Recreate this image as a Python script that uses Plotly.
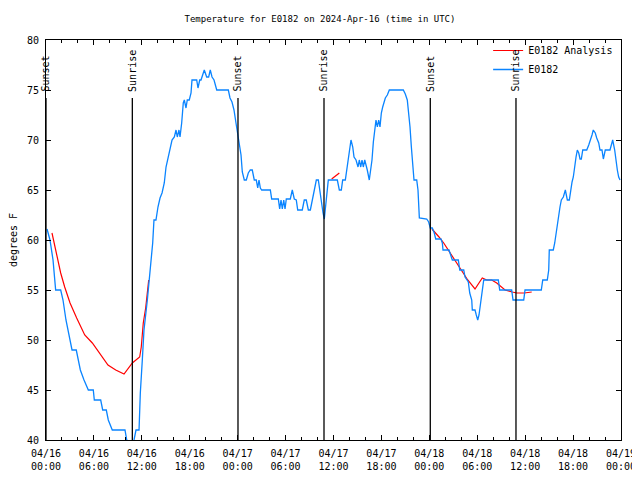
import pandas as pd
import plotly.graph_objects as go

BASE = pd.Timestamp("2024-04-16 00:00")

# Observed E0182 temperature: hours since 2024-04-16 00:00 UTC, degrees F
obs_hours = [0.13, 0.50, 0.88, 1.21, 1.84, 2.13, 2.50, 2.88, 3.26, 3.79, 4.04, 4.30, 4.76, 5.30, 5.92,
             6.05, 6.85, 7.10, 7.55, 7.80, 8.30, 9.89, 10.11, 10.52, 11.02, 11.27, 11.65, 11.81, 12.06,
             12.27, 12.69, 13.11, 13.36, 13.52, 13.77, 14.02, 14.28, 14.53, 14.81, 15.03, 15.28, 15.53,
             15.78, 16.07, 16.28, 16.44, 16.65, 16.78, 16.99, 17.19, 17.32, 17.53, 17.69, 17.94, 18.16,
             18.28, 18.87, 19.03, 19.25, 19.41, 19.62, 19.82, 20.12, 20.37, 20.57, 20.79, 21.04, 21.38,
             22.83, 23.04, 23.29, 23.54, 23.79, 23.96, 24.09, 24.26, 24.42, 24.58, 24.83, 25.08, 25.33,
             25.58, 25.83, 26.08, 26.33, 26.51, 26.67, 26.84, 27.01, 28.09, 28.26, 29.09, 29.26, 29.43,
             29.59, 29.77, 29.93, 30.09, 30.59, 30.84, 31.09, 31.34, 31.52, 32.09, 32.34, 32.59, 32.85,
             33.10, 33.35, 33.60, 33.85, 34.10, 34.27, 34.44, 34.69, 34.85, 35.02, 35.19, 35.35, 36.48,
             36.73, 36.98, 37.15, 37.48, 37.65, 37.82, 37.98, 38.19, 38.41, 38.57, 38.82, 39.07, 39.23,
             39.41, 39.57, 39.73, 39.91, 40.07, 40.23, 40.48, 40.66, 40.82, 40.99, 41.16, 41.32, 41.49,
             41.66, 41.82, 41.99, 42.16, 42.32, 42.49, 42.74, 42.99, 44.74, 44.99, 45.24, 45.42, 45.58,
             45.75, 45.92, 46.08, 46.42, 46.58, 46.75, 47.67, 47.92, 48.12, 48.37, 48.62, 48.80, 49.46,
             49.63, 49.71, 50.46, 50.88, 51.63, 51.81, 52.31, 52.47, 52.72, 52.88, 53.06, 53.31, 53.38,
             53.72, 53.88, 54.06, 54.22, 54.31, 54.47, 54.63, 54.81, 56.64, 56.81, 58.31, 58.48, 59.82,
             59.98, 62.02, 62.20, 62.77, 62.95, 63.02, 63.52, 63.70, 63.86, 64.03, 64.20, 64.36, 64.53,
             64.78, 65.03, 65.28, 65.53, 65.70, 65.87, 66.03, 66.21, 66.37, 66.53, 66.71, 66.87, 67.03,
             67.21, 67.71, 67.96, 68.21, 68.37, 68.53, 68.78, 68.96, 69.21, 69.37, 69.62, 69.79, 70.03,
             70.62, 70.79, 70.96, 71.21, 71.37, 71.54, 71.71, 71.88]
obs_temps = [61.1, 60.0, 58.0, 55.0, 55.0, 54.0, 52.0, 50.5, 49.0, 49.0, 48.0, 47.0, 46.0, 45.0, 45.0,
             44.0, 44.0, 43.0, 43.0, 42.0, 41.0, 41.0, 40.0, 38.5, 40.0, 41.0, 41.0, 44.7, 48.0,
             51.0, 54.0, 57.7, 59.7, 62.0, 62.0, 63.3, 64.2, 64.7, 65.7, 67.3, 68.3, 69.3,
             70.0, 70.3, 71.0, 70.3, 71.0, 70.3, 71.7, 73.7, 74.0, 73.2, 74.0, 74.0, 74.7,
             76.0, 76.0, 75.2, 76.0, 76.0, 76.5, 77.0, 76.3, 76.3, 77.0, 76.3, 76.0, 75.0,
             75.0, 74.2, 73.8, 73.0, 71.7, 70.8, 70.3, 69.3, 68.5, 66.8, 66.0, 66.0, 66.7,
             67.0, 67.0, 66.0, 66.0, 65.2, 66.0, 65.2, 65.0, 65.0, 64.1, 64.1, 63.1, 64.0,
             63.1, 64.0, 63.1, 64.1, 64.1, 65.0, 64.1, 64.0, 63.0, 63.0, 64.0, 64.0, 63.0,
             63.0, 64.0, 65.0, 66.0, 66.0, 65.0, 63.7, 62.7, 62.1, 63.7, 65.0, 66.0, 66.0,
             65.0, 65.0, 66.0, 66.0, 67.0, 68.0, 69.3, 70.0, 69.3, 68.3, 68.0, 67.3, 68.0,
             67.3, 68.0, 67.3, 68.0, 67.3, 67.0, 66.0, 67.0, 68.0, 69.8, 71.3, 72.0, 71.3,
             72.0, 71.3, 72.7, 73.3, 73.8, 74.2, 74.5, 75.0, 75.0, 74.6, 74.0, 72.7, 71.3,
             69.3, 67.3, 66.0, 66.0, 65.0, 62.2, 62.1, 61.8, 61.2, 61.2, 60.7, 60.1, 60.1,
             59.7, 59.0, 59.0, 58.0, 58.0, 57.0, 57.0, 56.3, 56.0, 55.8, 54.7, 54.0, 53.0,
             53.0, 52.5, 52.0, 52.5, 53.0, 54.0, 55.0, 56.0, 56.0, 55.0, 55.0, 54.0, 54.0,
             55.0, 55.0, 56.0, 56.0, 57.0, 59.0, 59.0, 59.7, 60.7, 61.7, 62.5, 63.3, 64.0,
             64.3, 65.0, 64.0, 64.0, 65.0, 65.8, 66.3, 67.7, 68.3, 69.0, 68.7, 68.1, 68.1,
             69.0, 69.0, 69.5, 70.0, 70.5, 71.0, 70.7, 70.2, 69.7, 69.0, 69.0, 68.1, 69.0,
             69.0, 69.6, 70.0, 69.0, 67.7, 67.0, 66.3, 66.0]

# Analysis series (three separate segments)
ana1_hours = [0.75, 1.00, 1.34, 1.84, 2.34, 3.01, 3.84, 4.85, 5.80, 6.85, 7.76, 8.73, 9.77, 10.81,
              11.23, 11.73, 11.93, 12.18, 12.48, 12.69, 12.86]
ana1_temps = [60.7, 59.7, 58.7, 56.7, 55.3, 53.7, 52.2, 50.5, 49.7, 48.5, 47.5, 47.0, 46.6, 47.7,
              48.0, 48.3, 49.3, 51.7, 53.2, 54.8, 56.0]
ana2_hours = [35.77, 36.25, 36.73]
ana2_temps = [66.1, 66.4, 66.7]
ana3_hours = [48.33, 48.71, 49.21, 49.80, 50.38, 51.00, 51.63, 52.13, 52.81, 53.72, 54.63, 55.19,
              55.81, 56.44, 56.98, 57.48, 58.39, 58.94, 59.89, 60.82]
ana3_temps = [61.1, 60.8, 60.3, 59.7, 59.0, 58.2, 57.5, 56.8, 56.0, 55.1, 56.2, 56.0,
              56.0, 55.7, 55.3, 55.0, 54.8, 54.7, 54.7, 54.8]

# Sun events
sun_hours = [0.0, 10.81, 24.04, 34.81, 48.12, 58.85]
sun_labels = ["Sunset", "Sunrise", "Sunset", "Sunrise", "Sunset", "Sunrise"]

y_ticks = [40, 45, 50, 55, 60, 65, 70, 75, 80]


def to_time(hours):
    return [BASE + pd.to_timedelta(h, unit="h") for h in hours]


ana_x = to_time(ana1_hours) + [None] + to_time(ana2_hours) + [None] + to_time(ana3_hours)
ana_y = ana1_temps + [None] + ana2_temps + [None] + ana3_temps

FONT = "DejaVu Sans Mono"
fig = go.Figure()
fig.add_trace(go.Scatter(x=ana_x, y=ana_y, mode="lines", name="E0182 Analysis",
                         line=dict(color="#ff0000", width=1.2), connectgaps=False))
fig.add_trace(go.Scatter(x=to_time(obs_hours), y=obs_temps, mode="lines", name="E0182",
                         line=dict(color="#0a84ff", width=1.3)))

for h, lab in zip(sun_hours, sun_labels):
    t = BASE + pd.to_timedelta(h, unit="h")
    fig.add_shape(type="line", xref="x", yref="paper", x0=t, x1=t, y0=0, y1=0.855,
                  line=dict(color="black", width=1.3))
    fig.add_annotation(x=t, xref="x", yref="paper", y=0.866, text=lab, textangle=-90,
                       showarrow=False, xanchor="center", yanchor="bottom",
                       font=dict(family=FONT, size=10, color="black"))

# page body adds an 8px offset, so margins are shifted to land the plot area at 46..621 x 40..440
fig.update_layout(
    width=640, height=480,
    margin=dict(l=38, r=27, t=32, b=48, autoexpand=False),
    paper_bgcolor="white", plot_bgcolor="white",
    font=dict(family=FONT, size=10, color="black"),
    title=dict(text="Temperature for E0182 on 2024-Apr-16 (time in UTC)",
               x=(320 - 8) / 640, xanchor="center", y=1 - 11 / 480, yanchor="middle",
               font=dict(family=FONT, size=9, color="black")),
    showlegend=True,
    legend=dict(x=0.995, y=1.01, xanchor="right", yanchor="top", bgcolor="rgba(0,0,0,0)",
                font=dict(family=FONT, size=10), tracegroupgap=0, itemwidth=30),
)
fig.update_xaxes(
    type="date", automargin=False,
    range=[BASE, BASE + pd.Timedelta(hours=72)],
    tick0=BASE, dtick=6 * 3600 * 1000,
    tickformat="%m/%d<br>%H:%M",
    showgrid=False, zeroline=False,
    showline=True, linecolor="black", linewidth=1, mirror="ticks",
    ticks="inside", ticklen=5, tickcolor="black",
    minor=dict(dtick=2 * 3600 * 1000, ticks="inside", ticklen=3, tickcolor="black", showgrid=False),
    tickfont=dict(family=FONT, size=10),
    ticklabelstandoff=4,
)
fig.update_yaxes(
    automargin=False,
    range=[40, 80], tickvals=y_ticks,
    showgrid=False, zeroline=False,
    showline=True, linecolor="black", linewidth=1, mirror="ticks",
    ticks="inside", ticklen=5, tickcolor="black",
    title=dict(text="degrees F", font=dict(family=FONT, size=10), standoff=10),
    tickfont=dict(family=FONT, size=10),
    ticklabelstandoff=4,
)

fig.write_html("out.html")
